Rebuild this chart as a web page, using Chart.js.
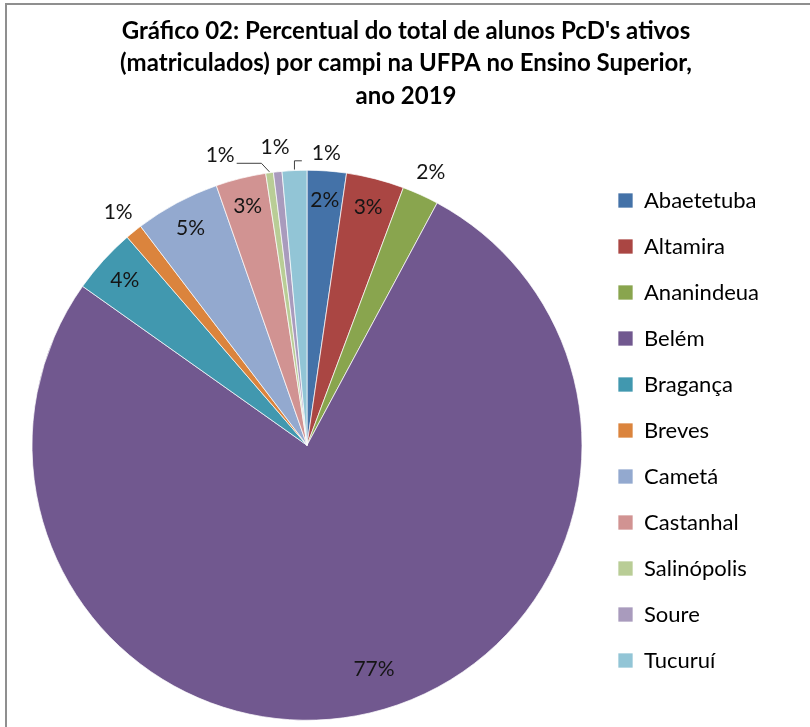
<!DOCTYPE html>
<html>
<head>
<meta charset="utf-8">
<script src="https://cdn.jsdelivr.net/npm/chart.js@4.4.0/dist/chart.umd.min.js"></script>
<style>
  html, body { margin: 0; padding: 0; background: #fff; }
  canvas { display: block; }
</style>
</head>
<body>
<canvas id="grafico" width="810" height="727"></canvas>
<script>
const campi = ['Abaetetuba', 'Altamira', 'Ananindeua', 'Belém', 'Bragança', 'Breves', 'Cametá', 'Castanhal', 'Salinópolis', 'Soure', 'Tucuruí'];
const percentuais = [2.3, 3.4, 2.15, 77.0, 3.85, 1.0, 5.0, 2.95, 0.45, 0.5, 1.45];
const cores = ['#4472A8', '#AA4643', '#89A54E', '#71588F', '#4198AF', '#DB843D', '#93A9CF', '#D19392', '#B9CD96', '#A99BBD', '#92C5D6'];
const titulo = ["Gráfico 02: Percentual do total de alunos PcD's ativos", '(matriculados) por campi na UFPA no Ensino Superior,', 'ano 2019'];

// rotulo fora da fatia? (as fatias finas ficam com o rotulo de fora)
const rotuloFora = [false, false, true, false, false, true, false, false, true, true, true];
// fatias com linha de chamada: deslocamento [dx, dy] do rotulo
const chamada = { 8: [-46, 7], 10: [33, 7] };

const moldura = {
  id: 'moldura',
  beforeDraw(chart) {
    const ctx = chart.ctx;
    ctx.save();
    ctx.fillStyle = '#fff';
    ctx.fillRect(0, 0, chart.width, chart.height);
    ctx.strokeStyle = '#8f8f8f';
    ctx.lineWidth = 2;
    ctx.beginPath();
    ctx.moveTo(6, chart.height);
    ctx.lineTo(6, 4);
    ctx.lineTo(chart.width, 4);
    ctx.stroke();
    ctx.restore();
  },
  beforeLayout(chart) {
    // largura fixa da legenda pra pizza ficar no lugar certo
    const leg = chart.legend;
    if (leg && !leg._ajustado) {
      const fit = leg.fit;
      leg.fit = function () { fit.call(this); this.width = 198; };
      leg._ajustado = true;
    }
  }
};

const rotulos = {
  id: 'rotulos',
  afterDatasetsDraw(chart) {
    const ctx = chart.ctx;
    const meta = chart.getDatasetMeta(0);
    const total = percentuais.reduce((a, b) => a + b, 0);
    ctx.save();
    ctx.font = '21px Lato';
    ctx.fillStyle = '#151515';
    ctx.textAlign = 'center';
    ctx.textBaseline = 'middle';
    meta.data.forEach((arc, i) => {
      const p = arc.getProps(['x', 'y', 'startAngle', 'endAngle', 'outerRadius'], true);
      let meio = (p.startAngle + p.endAngle) / 2;
      const txt = Math.max(1, Math.round(percentuais[i] / total * 100)) + '%';
      let r;
      if (rotuloFora[i]) r = p.outerRadius * 1.09;
      else if (i === 3) { r = p.outerRadius * 0.85; meio -= 0.06; }
      else r = p.outerRadius * 0.895;
      let lx = p.x + Math.cos(meio) * r;
      let ly = p.y + Math.sin(meio) * r;
      if (chamada[i]) {
        lx += chamada[i][0];
        ly += chamada[i][1];
        const w = ctx.measureText(txt).width;
        const x0 = p.x + Math.cos(meio) * (p.outerRadius + 1);
        const y0 = p.y + Math.sin(meio) * (p.outerRadius + 1);
        const yl = ly + 8;
        ctx.beginPath();
        ctx.strokeStyle = '#404040';
        ctx.lineWidth = 1;
        ctx.moveTo(x0, y0);
        if (chamada[i][0] < 0) {
          ctx.lineTo(x0 - 8, yl);
          ctx.lineTo(lx + w / 2 + 2, yl);
        } else {
          ctx.lineTo(x0, yl);
          ctx.lineTo(lx - w / 2 - 10, yl);
        }
        ctx.stroke();
      }
      ctx.fillText(txt, lx, ly);
    });
    ctx.restore();
  }
};

new Chart(document.getElementById('grafico'), {
  type: 'pie',
  data: {
    labels: campi,
    datasets: [{
      data: percentuais,
      backgroundColor: cores,
      borderColor: 'rgba(255,255,255,0.7)',
      borderWidth: 1,
      radius: 275,
      hoverOffset: 0
    }]
  },
  options: {
    responsive: false,
    devicePixelRatio: 1,
    animation: false,
    layout: { padding: { left: 20, right: 18, top: 0, bottom: 2 } },
    plugins: {
      title: {
        display: true,
        text: titulo,
        color: '#000',
        font: { family: 'Lato', size: 24, weight: 'bold', lineHeight: 32.5 / 24 },
        padding: { top: 15, bottom: 53 }
      },
      legend: {
        position: 'right',
        align: 'start',
        fullSize: false,
        labels: {
          boxWidth: 15,
          boxHeight: 15,
          padding: 24,
          color: '#000',
          font: { family: 'Lato', size: 22 }
        }
      },
      tooltip: { enabled: false }
    }
  },
  plugins: [moldura, rotulos]
});
</script>
</body>
</html>
